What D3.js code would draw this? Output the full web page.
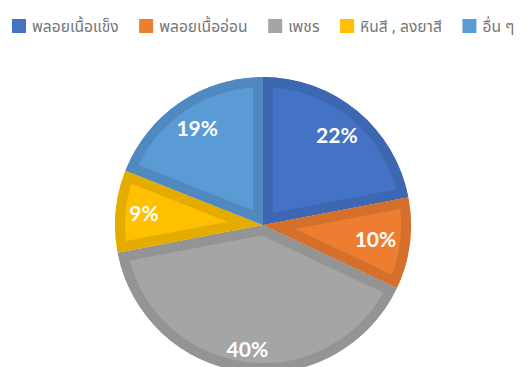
<!DOCTYPE html>
<html>
<head>
<meta charset="utf-8">
<script src="https://cdn.jsdelivr.net/npm/d3@7"></script>
<style>
  html, body { margin: 0; padding: 0; background: #fff; }
  svg { display: block; }
</style>
</head>
<body>
<svg id="chart" width="526" height="367"></svg>
<script>
// Share of each gem category
const categories = ["พลอยเนื้อแข็ง", "พลอยเนื้ออ่อน", "เพชร", "หินสี , ลงยาสี", "อื่น ๆ"];
const values = [22, 10, 40, 9, 19];
const fillColors = ["#4472C4", "#ED7D31", "#A5A5A5", "#FFC000", "#5B9BD5"];
const edgeColors = ["#3D67B1", "#D5702C", "#949494", "#E5AC00", "#5089C0"];

const cx = 263, cy = 225, R = 148;
const border = 10;

const svg = d3.select("#chart");

const color = d3.scaleOrdinal().domain(categories).range(fillColors);
const edge = d3.scaleOrdinal().domain(categories).range(edgeColors);

const data = categories.map((c, i) => ({ name: c, value: values[i] }));
const pie = d3.pie().value(d => d.value).sort(null);
const arcs = pie(data);
const arc = d3.arc().innerRadius(0).outerRadius(R);

const defs = svg.append("defs");
const g = svg.append("g").attr("transform", `translate(${cx},${cy})`);

arcs.forEach((a, i) => {
  const id = "clip-slice-" + i;
  defs.append("clipPath").attr("id", id)
    .append("path").attr("d", arc(a));
  // slice body; a doubled stroke clipped to the slice leaves a darker band inside its edges
  g.append("path")
    .attr("d", arc(a))
    .attr("fill", color(a.data.name))
    .attr("stroke", edge(a.data.name))
    .attr("stroke-width", border * 2)
    .attr("stroke-linejoin", "miter")
    .attr("clip-path", `url(#${id})`);
});

// percentage labels, pushed toward the outer rim
const labelRim = 136;
const halfCap = 8;
arcs.forEach(a => {
  const mid = (a.startAngle + a.endAngle) / 2;
  const t = g.append("text")
    .attr("text-anchor", "middle")
    .attr("font-family", "Lato, 'Open Sans', sans-serif")
    .attr("font-weight", "bold")
    .attr("font-size", 21)
    .attr("fill", "#fff")
    .text(a.data.value + "%");
  const halfW = t.node().getComputedTextLength() / 2 + 1;
  const ext = Math.abs(Math.sin(mid)) * halfW + Math.abs(Math.cos(mid)) * halfCap;
  const d = labelRim - ext;
  t.attr("x", d * Math.sin(mid)).attr("y", -d * Math.cos(mid) + 7.5);
});

// legend row across the top
const legend = svg.append("g").attr("transform", "translate(12,0)");
let lx = 0;
categories.forEach(c => {
  const item = legend.append("g").attr("transform", `translate(${lx},0)`);
  item.append("rect")
    .attr("x", 0).attr("y", 19).attr("width", 14).attr("height", 14)
    .attr("fill", color(c));
  const t = item.append("text")
    .attr("x", 20).attr("y", 32)
    .attr("font-family", "Tahoma, 'Noto Sans Thai', 'Noto Sans', sans-serif")
    .attr("font-size", 15.6)
    .attr("fill", "#767676")
    .text(c);
  lx += 20 + t.node().getComputedTextLength() + 20.6;
});
</script>
</body>
</html>
